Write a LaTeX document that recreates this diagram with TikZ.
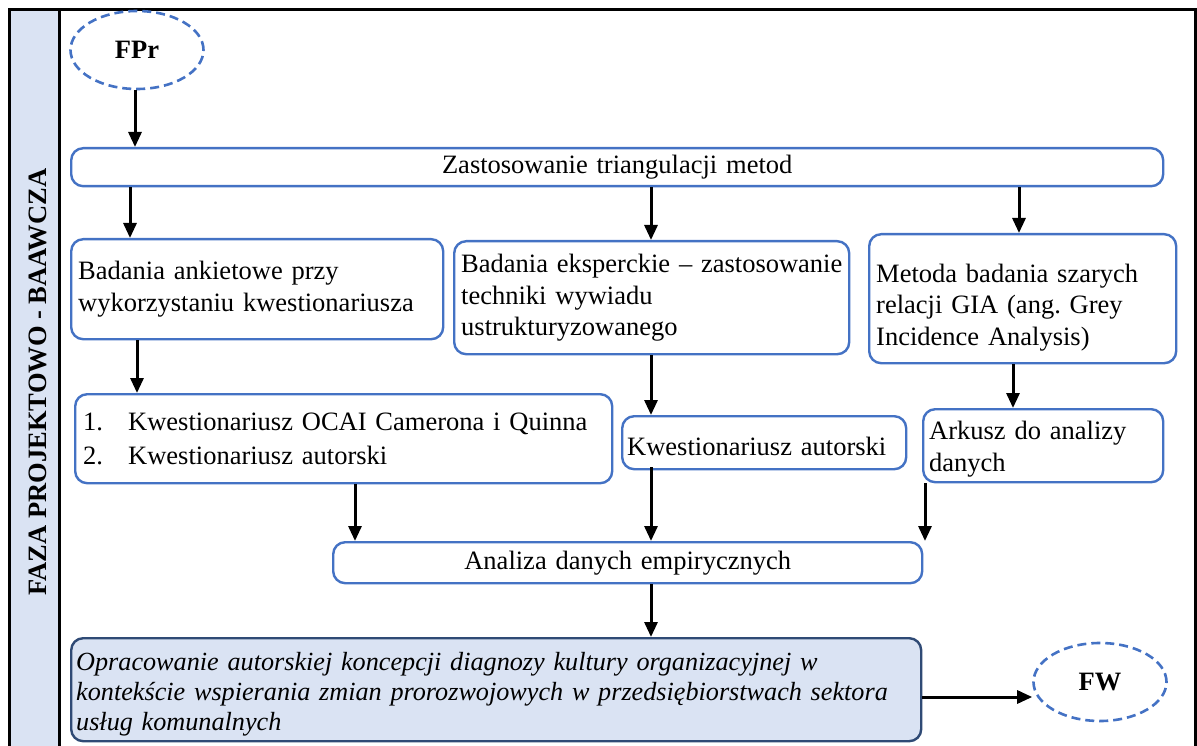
\documentclass[tikz,border=0pt]{standalone}
\usepackage{fontspec}
\setmainfont{Liberation Serif}
\usetikzlibrary{arrows.meta,shapes.geometric}
\definecolor{boxblue}{HTML}{4472C4}
\definecolor{bandfill}{HTML}{DAE3F3}
\definecolor{navy}{HTML}{2F4A75}
\frenchspacing
\tikzset{
  stepbox/.style={draw=boxblue, line width=2.4pt, rounded corners=12pt, fill=white,
    anchor=north west, inner xsep=7pt, inner ysep=0pt, align=left},
  phase/.style={draw=boxblue, line width=2.6pt, dash pattern=on 9pt off 5pt, ellipse,
    font=\fontsize{26.5}{31}\selectfont\bfseries, inner sep=0pt},
  flow/.style={line width=3pt, -{Triangle[length=15pt,width=13pt]}},
}
\begin{document}
\begin{tikzpicture}[x=1pt,y=-1pt, font=\fontsize{26.5}{31.5}\selectfont]
\useasboundingbox (0,0) rectangle (1197,746);
% outer frame with the phase band on the left
\fill[bandfill] (9,10) rectangle (59,760);
\draw[line width=3pt] (9,760) -- (9,10) -- (1195,10) -- (1195,760);
\draw[line width=3pt] (59,10) -- (59,760);
\node[rotate=90, font=\fontsize{26.5}{30}\selectfont\bfseries] (band) at (38,382) {FAZA PROJEKTOWO - BAAWCZA};

% phase markers
\node[phase, minimum width=133pt, minimum height=78pt] (fpr) at (137,50) {FPr};
\node[phase, minimum width=133pt, minimum height=78pt] (fw) at (1100,682) {FW};

% method triangulation
\node[stepbox, minimum width=1092pt, minimum height=38pt, text width=1078pt, align=center] (tri) at (70,147)
  {Zastosowanie triangulacji metod};

% three research methods
\node[stepbox, minimum width=372pt, minimum height=100pt, text width=358pt] (ank) at (70,238)
  {\mbox{Badania ankietowe przy}\\\mbox{wykorzystaniu kwestionariusza}};
\node[stepbox, minimum width=395pt, minimum height=113pt, text width=381pt] (eks) at (453,240)
  {\mbox{Badania eksperckie -- zastosowanie}\\\mbox{techniki wywiadu}\\\mbox{ustrukturyzowanego}};
\node[stepbox, minimum width=307pt, minimum height=129pt, text width=293pt] (gia) at (868,233)
  {\rule{0pt}{36pt}\mbox{Metoda badania szarych}\\\mbox{relacji GIA (ang. Grey}\\\mbox{Incidence Analysis)}};

% research tools
\node[stepbox, minimum width=535pt, minimum height=89pt, text width=521pt, inner xsep=8pt] (ocai) at (74,393)
  {\makebox[45pt][l]{1.}Kwestionariusz OCAI Camerona i Quinna\\[3pt]
   \makebox[45pt][l]{2.}Kwestionariusz autorski};
\node[stepbox, minimum width=284pt, minimum height=53pt, inner xsep=5pt, text width=274pt] (kwa) at (621,415)
  {\rule{0pt}{26pt}Kwestionariusz autorski};
\node[stepbox, minimum width=240pt, minimum height=73pt, inner xsep=6pt, text width=228pt] (ark) at (922,408)
  {\rule{0pt}{25pt}\mbox{Arkusz do analizy}\\\mbox{danych}};

% analysis and result
\node[stepbox, minimum width=589pt, minimum height=41pt, text width=575pt, align=center] (ana) at (332,541)
  {Analiza danych empirycznych};
\node[stepbox, draw=navy, fill=bandfill, minimum width=850pt, minimum height=103pt,
  inner xsep=5pt, text width=840pt, font=\fontsize{26.2}{30}\selectfont\itshape] (res) at (70,637)
  {\rule{0pt}{27pt}\mbox{Opracowanie autorskiej koncepcji diagnozy kultury organizacyjnej w}\\
   \mbox{kontekście wspierania zmian prorozwojowych w przedsiębiorstwach sektora}\\
   \mbox{usług komunalnych}};

% connectors
\draw[flow] (fpr.south -| 135,0) -- (tri.north -| 135,0);
\draw[flow] (tri.south -| 130,0) -- (ank.north -| 130,0);
\draw[flow] (tri.south -| 651,0) -- (eks.north -| 651,0);
\draw[flow] (tri.south -| 1019,0) -- (gia.north -| 1019,0);
\draw[flow] (ank.south -| 137,0) -- (ocai.north -| 137,0);
\draw[flow] (eks.south -| 651,0) -- (kwa.north -| 651,0);
\draw[flow] (gia.south -| 1013,0) -- (ark.north -| 1013,0);
\draw[flow] (ocai.south -| 355,0) -- (ana.north -| 355,0);
\draw[flow] ([yshift=3pt]kwa.south -| 651,0) -- (ana.north -| 651,0);
\draw[flow] (ark.south -| 925,0) -- (ana.north -| 925,0);
\draw[flow] (ana.south -| 651,0) -- (res.north -| 651,0);
\draw[flow] (res.east |- 0,697) -- (fw.west |- 0,697);
\end{tikzpicture}
\end{document}
